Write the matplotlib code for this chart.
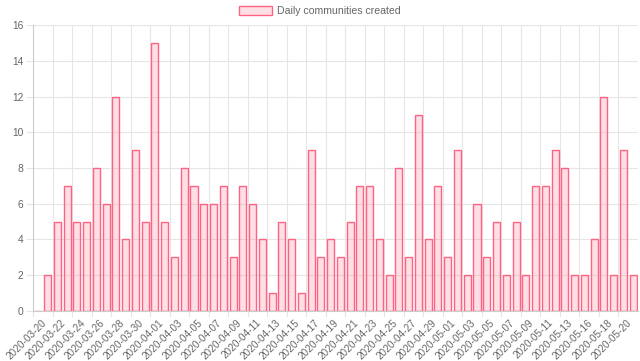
import numpy as np
import pandas as pd
import matplotlib
matplotlib.use('Agg')
import matplotlib.pyplot as plt
import matplotlib.transforms as mtransforms

# dates (one day in mid-May has no entry)
dates = [d.strftime('%Y-%m-%d') for d in pd.date_range('2020-03-20', '2020-05-21')
         if d.strftime('%Y-%m-%d') != '2020-05-15']
counts = [0, 2, 5, 7, 5, 5, 8, 6, 12, 4, 9, 5, 15, 5, 3, 8, 7, 6, 6, 7, 3, 7,
          6, 4, 1, 5, 4, 1, 9, 3, 4, 3, 5, 7, 7, 4, 2, 8, 3, 11, 4, 7, 3, 9,
          2, 6, 3, 5, 2, 5, 2, 7, 7, 9, 8, 2, 2, 4, 12, 2, 9, 2]
series_name = 'Daily communities created'
y_ticks = [0, 2, 4, 6, 8, 10, 12, 14, 16]

plt.rcParams['font.family'] = ['Liberation Sans', 'DejaVu Sans']
fill = (1.0, 99/255, 132/255, 0.2)
edge = (1.0, 99/255, 132/255)
txt = '#666666'
grid = '#e6e6e6'

fig = plt.figure(figsize=(6.4, 3.61), dpi=100)
ax = fig.add_axes([33/640, (361-310.7)/361, (638-33)/640, (310.7-25.4)/361])

x = np.arange(len(dates))
ax.bar(x, counts, width=0.72, color=fill, edgecolor=edge, linewidth=1.0, zorder=3,
       label=series_name)

ax.set_xlim(-0.5, len(dates) - 0.5)
ax.set_ylim(0, 16)
ax.set_yticks(y_ticks)
ax.set_yticklabels([str(v) for v in y_ticks], color=txt, fontsize=7.4)
ax.tick_params(axis='y', length=5, color=grid, width=0.8, pad=2)

# labels on every other category, grid at the category boundaries
lab_idx = x[::2]
ax.set_xticks(lab_idx)
ax.set_xticklabels([dates[i] for i in lab_idx], rotation=45, ha='right',
                   rotation_mode='anchor', color=txt, fontsize=7.2)
ax.tick_params(axis='x', length=0, pad=5)
shift = mtransforms.ScaledTranslation(3/100, 0, fig.dpi_scale_trans)
for lab in ax.get_xticklabels():
    lab.set_transform(lab.get_transform() + shift)
for i in lab_idx:
    ax.axvline(i - 0.5, color=grid, lw=0.8, zorder=1)
    ax.plot([i - 0.5, i - 0.5], [0, -0.3], color=grid, lw=0.8, clip_on=False)
ax.yaxis.grid(True, color=grid, lw=0.8, zorder=1)
ax.set_axisbelow(True)

for s in ['top', 'right']:
    ax.spines[s].set_visible(False)
for s in ['left', 'bottom']:
    ax.spines[s].set_color('#cccccc')
    ax.spines[s].set_linewidth(0.8)

fig.legend(loc='upper center', bbox_to_anchor=(0.5, 1.01), frameon=False,
           fontsize=7.6, labelcolor=txt, handlelength=3.1, handleheight=0.95,
           handletextpad=0.55)

fig.savefig('out.png', dpi=100)
